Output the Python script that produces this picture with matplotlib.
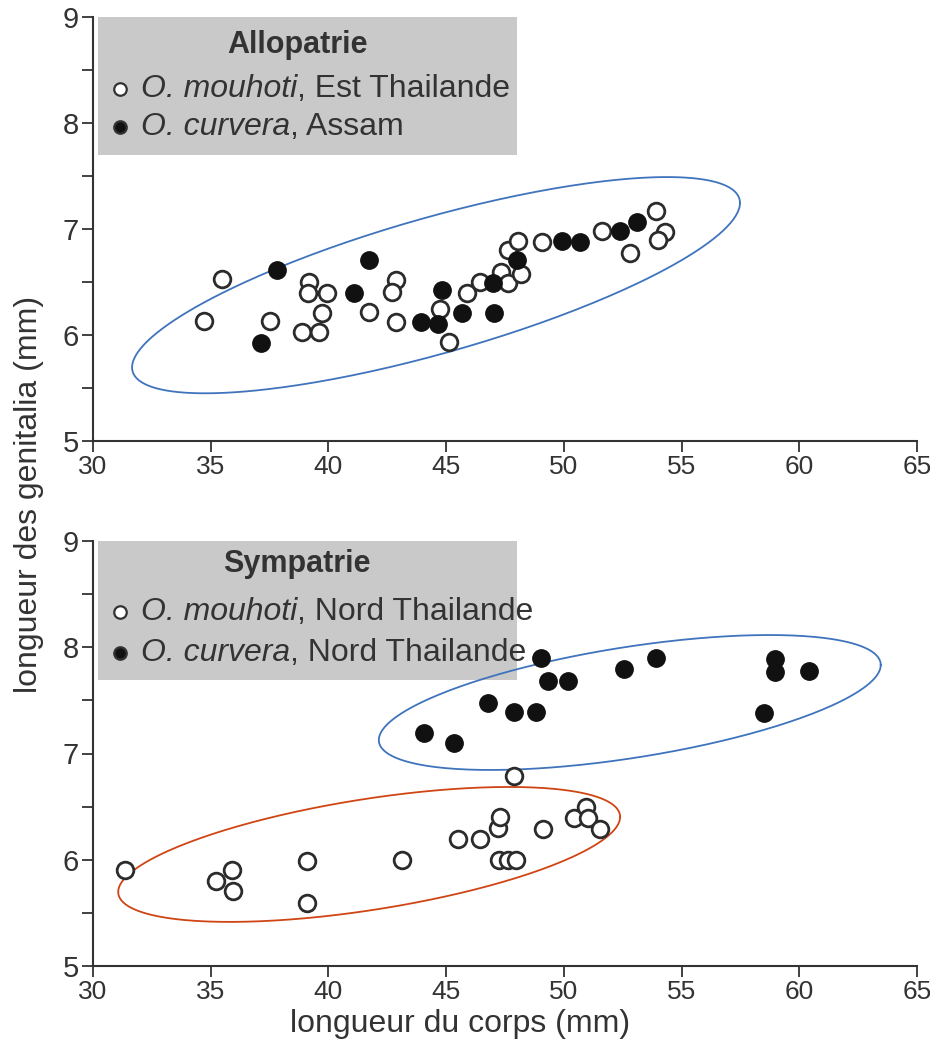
import numpy as np
import matplotlib
matplotlib.use("Agg")
import matplotlib.pyplot as plt
from matplotlib.patches import Rectangle

# ── Données ───────────────────────────────────────────────────────────────────

# Allopatrie : O. mouhoti (Est Thailande)
allo_mou_x = [34.72, 35.48, 37.52, 38.88, 39.18, 39.13, 39.60, 39.73, 39.94, 41.72,
              42.87, 42.70, 42.87, 44.74, 45.12, 45.89, 46.44, 47.33, 47.63, 47.63,
              48.05, 48.18, 49.07, 51.62, 52.81, 53.92, 54.30, 54.00]
allo_mou_y = [6.13, 6.53, 6.13, 6.03, 6.50, 6.40, 6.03, 6.21, 6.40, 6.22,
              6.52, 6.41, 6.12, 6.25, 5.93, 6.40, 6.50, 6.59, 6.49, 6.80,
              6.89, 6.58, 6.88, 6.98, 6.77, 7.17, 6.97, 6.90]
# Allopatrie : O. curvera (Assam)
allo_cur_x = [37.14, 37.82, 41.09, 41.72, 43.93, 44.66, 44.83, 45.68, 46.99, 47.03,
              48.01, 49.92, 50.69, 52.39, 53.11]
allo_cur_y = [5.92, 6.61, 6.40, 6.71, 6.12, 6.10, 6.42, 6.21, 6.49, 6.21,
              6.71, 6.89, 6.88, 6.98, 7.07]

# Sympatrie : O. mouhoti (Nord Thailande)
sym_mou_x = [31.36, 35.24, 35.92, 35.96, 39.11, 39.11, 43.11, 45.50, 46.43, 47.20,
             47.28, 47.24, 47.62, 47.97, 47.88, 49.11, 50.43, 50.94, 51.03, 51.54]
sym_mou_y = [5.90, 5.80, 5.90, 5.71, 5.99, 5.59, 6.00, 6.20, 6.20, 6.30,
             6.40, 6.00, 6.00, 6.00, 6.79, 6.29, 6.39, 6.50, 6.39, 6.29]
# Sympatrie : O. curvera (Nord Thailande)
sym_cur_x = [44.05, 45.33, 46.77, 47.88, 48.82, 49.03, 49.33, 50.18, 52.56, 53.92,
             58.95, 58.95, 60.40, 58.48]
sym_cur_y = [7.19, 7.10, 7.48, 7.39, 7.39, 7.90, 7.68, 7.68, 7.80, 7.90,
             7.89, 7.77, 7.78, 7.38]

# ellipses : centre x, centre y, demi-largeur, demi-hauteur, inclinaison (rho)
ell_allo = (44.57, 6.47, 12.91, 1.02, 0.76)
ell_sym_cur = (52.80, 7.48, 10.66, 0.635, 0.556)
ell_sym_mou = (41.73, 6.05, 10.66, 0.635, 0.556)

xticks = [30, 35, 40, 45, 50, 55, 60, 65]
yticks = [5, 6, 7, 8, 9]

DARK = "#333333"
SANS = ["Liberation Sans", "DejaVu Sans"]
BLUE = "#3f74bd"
RED = "#cf4514"


def ellipse(ax, params, color):
    cx, cy, hw, hh, rho = params
    t = np.linspace(0, 2 * np.pi, 300)
    x = cx + hw * np.cos(t)
    y = cy + hh * (rho * np.cos(t) + np.sqrt(1 - rho ** 2) * np.sin(t))
    ax.plot(x, y, color=color, lw=1.3, zorder=2)


def style_axes(ax):
    for s in ("top", "right"):
        ax.spines[s].set_visible(False)
    for s in ("left", "bottom"):
        ax.spines[s].set_color(DARK)
        ax.spines[s].set_linewidth(1.5)
    ax.set_xlim(30, 65)
    ax.set_ylim(5, 9)
    ax.set_xticks(xticks)
    ax.set_yticks(yticks)
    ax.set_yticks(np.arange(5.5, 9, 1.0), minor=True)
    ax.tick_params(axis="both", which="both", direction="out", length=8,
                   width=1.3, color=DARK, labelcolor=DARK, pad=2)
    for lab in ax.get_xticklabels():
        lab.set_family(SANS)
        lab.set_fontsize(19)
    for lab in ax.get_yticklabels():
        lab.set_family(SANS)
        lab.set_fontsize(21)


def legend_box(ax, title, entries, box_bottom, rows):
    ax.add_patch(Rectangle((0.006, box_bottom), 0.508, 1 - box_bottom,
                           transform=ax.transAxes, facecolor="#c9c9c9",
                           edgecolor="none", zorder=0, clip_on=False))
    ax.text(0.248, rows[0], title, transform=ax.transAxes, ha="center",
            va="center", fontsize=22, fontweight="bold", color=DARK,
            family=SANS, zorder=1)
    for (ital, rest, fill), yy in zip(entries, rows[1:]):
        ax.plot([0.033], [yy], transform=ax.transAxes, marker="o", ms=9,
                mfc=fill, mec=DARK, mew=1.6, ls="none", zorder=1,
                clip_on=False)
        t1 = ax.text(0.058, yy, ital, transform=ax.transAxes, ha="left",
                     va="center", fontsize=23, style="italic", color=DARK,
                     family=SANS, zorder=1)
        ax.annotate(rest, xy=(1, 0), xycoords=t1, ha="left", va="bottom",
                    fontsize=23, color=DARK, family=SANS, zorder=1)


def scatter_pair(ax, ox, oy, fx, fy):
    ax.plot(ox, oy, "o", ms=12, mfc="white", mec="#2b2b2b", mew=2.0,
            ls="none", zorder=3)
    ax.plot(fx, fy, "o", ms=12.5, mfc="#111111", mec="#111111", mew=1.0,
            ls="none", zorder=3)


fig = plt.figure(figsize=(9.30, 10.41), dpi=100)
ax1 = fig.add_axes([93 / 930, 1 - 441 / 1041, 824 / 930, 424 / 1041])
ax2 = fig.add_axes([93 / 930, 1 - 966 / 1041, 824 / 930, 425 / 1041])

# ── Allopatrie ────────────────────────────────────────────────────────────────
style_axes(ax1)
legend_box(ax1, "Allopatrie",
           [("O. mouhoti", ", Est Thailande", "white"),
            ("O. curvera", ", Assam", "#111111")],
           0.675, [0.933, 0.831, 0.741])
ellipse(ax1, ell_allo, BLUE)
scatter_pair(ax1, allo_mou_x, allo_mou_y, allo_cur_x, allo_cur_y)

# ── Sympatrie ─────────────────────────────────────────────────────────────────
style_axes(ax2)
legend_box(ax2, "Sympatrie",
           [("O. mouhoti", ", Nord Thailande", "white"),
            ("O. curvera", ", Nord Thailande", "#111111")],
           0.673, [0.945, 0.833, 0.736])
ellipse(ax2, ell_sym_cur, BLUE)
ellipse(ax2, ell_sym_mou, RED)
scatter_pair(ax2, sym_mou_x, sym_mou_y, sym_cur_x, sym_cur_y)

fig.text(0.031, 1 - 494 / 1041, "longueur des genitalia (mm)", rotation=90,
         ha="center", va="center", fontsize=23, color=DARK, family=SANS)
fig.text(0.495, 1 - 1024 / 1041, "longueur du corps (mm)", ha="center",
         va="center", fontsize=23, color=DARK, family=SANS)

fig.savefig("out.png", dpi=100, facecolor="white")
